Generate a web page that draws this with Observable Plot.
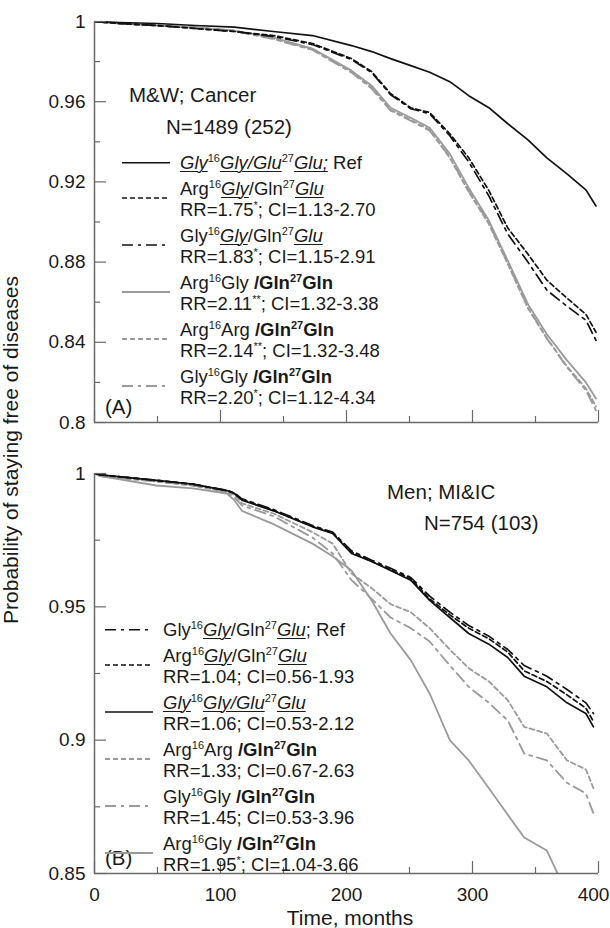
<!DOCTYPE html>
<html>
<head>
<meta charset="utf-8">
<script src="https://cdn.jsdelivr.net/npm/d3@7"></script>
<script src="https://cdn.jsdelivr.net/npm/@observablehq/plot@0.6"></script>
<style>
  html, body { margin: 0; padding: 0; background: #fff; }
  body { font-family: "Liberation Sans", Arial, sans-serif; color: #1a1a1a; }
  #wrap { position: relative; width: 610px; height: 928px; overflow: hidden; }
  .panel { position: absolute; left: 0; }
  .panel svg { display: block; }
  #ov { position: absolute; left: 0; top: 0; pointer-events: none; }
  #ov text { font-family: "Liberation Sans", Arial, sans-serif; fill: #1a1a1a; }
  .legend { position: absolute; font-size: 18.5px; line-height: 21.5px; color: #1a1a1a; white-space: nowrap; }
  .entry { display: flex; align-items: flex-start; margin-bottom: 4px; }
  .entry svg { flex: none; display: block; }
  .entry .txt { margin-left: 10px; }
  sup { font-size: 11px; line-height: 0; vertical-align: 7px; }
  u { text-decoration-thickness: 1px; text-underline-offset: 2px; }
</style>
</head>
<body>
<div id="wrap">
  <div id="pa" class="panel" style="top:0px"></div>
  <div id="pb" class="panel" style="top:447px"></div>
  <svg id="ov" width="610" height="928">
    <text transform="translate(18,450) rotate(-90)" text-anchor="middle" font-size="21">Probability of staying free of diseases</text>
    <text x="350" y="925" text-anchor="middle" font-size="21">Time, months</text>
    <text x="129" y="102" font-size="20.5">M&amp;W; Cancer</text>
    <text x="166" y="134" font-size="20.5">N=1489 (252)</text>
    <text x="105" y="414" font-size="20.5">(A)</text>
    <text x="387" y="499" font-size="20.5">Men; MI&amp;IC</text>
    <text x="424" y="530" font-size="20.5">N=754 (103)</text>
    <text x="105" y="865" font-size="20.5">(B)</text>
  </svg>
  <div id="legA" class="legend" style="left:122px; top:152px"></div>
  <div id="legB" class="legend" style="left:105px; top:619px"></div>
</div>
<script>
// ---------------- DATA ----------------
// Panel A: M&W; Cancer, N=1489 (252)
const timesA = [0, 20, 50, 80, 111, 142, 173, 204, 220, 235, 251, 266, 282, 297, 313, 328, 344, 359, 375, 390, 398];
const a_GlyGly_GluGlu = [1.0, 0.9995, 0.999, 0.998, 0.9972, 0.995, 0.993, 0.988, 0.985, 0.9815, 0.978, 0.9747, 0.970, 0.963, 0.957, 0.949, 0.941, 0.932, 0.924, 0.916, 0.908];
const a_ArgGly_GlnGlu = [1.0, 0.999, 0.998, 0.9965, 0.995, 0.993, 0.989, 0.9815, 0.975, 0.964, 0.957, 0.9546, 0.944, 0.932, 0.9157, 0.897, 0.884, 0.871, 0.862, 0.854, 0.845];
const a_GlyGly_GlnGlu = [1.0, 0.999, 0.998, 0.9965, 0.995, 0.9925, 0.9885, 0.981, 0.9745, 0.9635, 0.9565, 0.954, 0.943, 0.930, 0.913, 0.894, 0.880, 0.866, 0.858, 0.851, 0.841];
const a_ArgGly_GlnGln = [1.0, 0.999, 0.998, 0.997, 0.9955, 0.992, 0.9865, 0.9755, 0.968, 0.957, 0.952, 0.947, 0.934, 0.917, 0.9007, 0.8807, 0.859, 0.844, 0.831, 0.820, 0.812];
const a_ArgArg_GlnGln = [1.0, 0.999, 0.998, 0.997, 0.9953, 0.9915, 0.986, 0.975, 0.967, 0.956, 0.951, 0.946, 0.932, 0.915, 0.899, 0.879, 0.857, 0.842, 0.828, 0.817, 0.808];
const a_GlyGly_GlnGln = [1.0, 0.999, 0.998, 0.997, 0.9952, 0.9912, 0.9858, 0.9745, 0.9665, 0.9555, 0.9505, 0.9455, 0.9325, 0.9155, 0.8995, 0.8795, 0.8575, 0.842, 0.8275, 0.816, 0.806];

// Panel B: Men; MI&IC, N=754 (103)
const timesB = [0, 5, 49, 78, 105, 111, 117, 142, 173, 189, 204, 220, 235, 251, 266, 282, 297, 313, 328, 341, 359, 375, 390, 396];
const b_GlyGly_GlnGlu = [1, 0.9995, 0.9975, 0.996, 0.9937, 0.9927, 0.9905, 0.9865, 0.9805, 0.978, 0.971, 0.9675, 0.9645, 0.961, 0.954, 0.948, 0.943, 0.939, 0.934, 0.928, 0.924, 0.919, 0.914, 0.910];
const b_ArgGly_GlnGlu = [1, 0.9995, 0.9974, 0.996, 0.9936, 0.9926, 0.9903, 0.9862, 0.9802, 0.9778, 0.9705, 0.967, 0.964, 0.9605, 0.953, 0.947, 0.942, 0.938, 0.933, 0.926, 0.922, 0.917, 0.912, 0.907];
const b_GlyGly_GluGlu = [1, 0.9995, 0.9974, 0.996, 0.9936, 0.9925, 0.990, 0.986, 0.980, 0.9775, 0.970, 0.967, 0.9636, 0.960, 0.9524, 0.946, 0.940, 0.936, 0.931, 0.924, 0.920, 0.914, 0.910, 0.905];
const b_ArgArg_GlnGln = [1, 0.999, 0.997, 0.9955, 0.993, 0.992, 0.9888, 0.985, 0.978, 0.9737, 0.9625, 0.957, 0.951, 0.948, 0.942, 0.934, 0.927, 0.922, 0.915, 0.905, 0.9025, 0.8924, 0.889, 0.882];
const b_GlyGly_GlnGln = [1, 0.999, 0.997, 0.9955, 0.993, 0.991, 0.988, 0.984, 0.976, 0.970, 0.960, 0.953, 0.946, 0.942, 0.937, 0.928, 0.920, 0.914, 0.9074, 0.895, 0.8924, 0.884, 0.880, 0.8725];
const b_ArgGly_GlnGln = [1, 0.999, 0.9955, 0.9944, 0.9925, 0.990, 0.986, 0.981, 0.9737, 0.969, 0.9636, 0.9524, 0.940, 0.930, 0.9175, 0.900, 0.8924, 0.882, 0.872, 0.8635, 0.8586, 0.8425, null, null];

// Tick values
const xMajorTicks = [0, 100, 200, 300, 400];
const xMinorTicks = [50, 150, 250, 350];
const yMajorTicksA = [0.8, 0.84, 0.88, 0.92, 0.96, 1];
const yMinorTicksA = [0.82, 0.86, 0.9, 0.94, 0.98];
const yMajorTicksB = [0.85, 0.9, 0.95, 1];
const yMinorTicksB = [0.875, 0.925, 0.975];

// Legend labels (rich text)
const legendLabelsA = [
  ['<u><i>Gly</i></u><sup>16</sup><u><i>Gly/Glu</i></u><sup>27</sup><u><i>Glu;</i></u> Ref'],
  ['Arg<sup>16</sup><u><i>Gly</i></u>/Gln<sup>27</sup><u><i>Glu</i></u>', 'RR=1.75<sup>*</sup>; CI=1.13-2.70'],
  ['Gly<sup>16</sup><u><i>Gly</i></u>/Gln<sup>27</sup><u><i>Glu</i></u>', 'RR=1.83<sup>*</sup>; CI=1.15-2.91'],
  ['Arg<sup>16</sup>Gly <b>/Gln<sup>27</sup>Gln</b>', 'RR=2.11<sup>**</sup>; CI=1.32-3.38'],
  ['Arg<sup>16</sup>Arg <b>/Gln<sup>27</sup>Gln</b>', 'RR=2.14<sup>**</sup>; CI=1.32-3.48'],
  ['Gly<sup>16</sup>Gly <b>/Gln<sup>27</sup>Gln</b>', 'RR=2.20<sup>*</sup>; CI=1.12-4.34']
];
const legendLabelsB = [
  ['Gly<sup>16</sup><u><i>Gly</i></u>/Gln<sup>27</sup><u><i>Glu</i></u>; Ref'],
  ['Arg<sup>16</sup><u><i>Gly</i></u>/Gln<sup>27</sup><u><i>Glu</i></u>', 'RR=1.04; CI=0.56-1.93'],
  ['<u><i>Gly</i></u><sup>16</sup><u><i>Gly/Glu</i></u><sup>27</sup><u><i>Glu</i></u>', 'RR=1.06; CI=0.53-2.12'],
  ['Arg<sup>16</sup>Arg <b>/Gln<sup>27</sup>Gln</b>', 'RR=1.33; CI=0.67-2.63'],
  ['Gly<sup>16</sup>Gly <b>/Gln<sup>27</sup>Gln</b>', 'RR=1.45; CI=0.53-3.96'],
  ['Arg<sup>16</sup>Gly <b>/Gln<sup>27</sup>Gln</b>', 'RR=1.95<sup>*</sup>; CI=1.04-3.66']
];

// ---------------- STYLES ----------------
const BLACK = "#111111", GRAY = "#9a9a9a", AXIS = "#6a6a6a";
const lineStyles = {
  blackSolid:   {stroke: BLACK, width: 1.7, dash: null},
  blackDash:    {stroke: BLACK, width: 1.7, dash: "5,3"},
  blackDashDot: {stroke: BLACK, width: 1.7, dash: "11,5,3,5"},
  graySolid:    {stroke: GRAY,  width: 1.8, dash: null},
  grayDash:     {stroke: GRAY,  width: 1.8, dash: "5,3"},
  grayDashDot:  {stroke: GRAY,  width: 1.8, dash: "11,5,3,5"}
};

const seriesA = [
  {values: a_GlyGly_GluGlu, style: "blackSolid"},
  {values: a_ArgGly_GlnGlu, style: "blackDash"},
  {values: a_GlyGly_GlnGlu, style: "blackDashDot"},
  {values: a_ArgGly_GlnGln, style: "graySolid"},
  {values: a_ArgArg_GlnGln, style: "grayDash"},
  {values: a_GlyGly_GlnGln, style: "grayDashDot"}
];
const seriesB = [
  {values: b_GlyGly_GlnGlu, style: "blackDashDot"},
  {values: b_ArgGly_GlnGlu, style: "blackDash"},
  {values: b_GlyGly_GluGlu, style: "blackSolid"},
  {values: b_ArgArg_GlnGln, style: "grayDash"},
  {values: b_GlyGly_GlnGln, style: "grayDashDot"},
  {values: b_ArgGly_GlnGln, style: "graySolid"}
];

const W = 610, ML = 94, MR = 12;

function makePanel({times, series, yDomain, yMajor, yMinor, height, mt, mb, showX}) {
  const fw = W - ML - MR, fh = height - mt - mb;
  const marks = [];
  [...series].reverse().forEach(s => {
    const st = lineStyles[s.style];
    const rows = times.map((t, i) => ({t, v: s.values[i]}));
    marks.push(Plot.line(rows, {x: "t", y: "v", stroke: st.stroke, strokeWidth: st.width,
      strokeDasharray: st.dash, clip: true, curve: "linear"}));
  });
  // inward ticks
  marks.push(Plot.tickY(yMinor, {y: d => d, insetRight: fw - 6, stroke: AXIS, strokeWidth: 1.2}));
  marks.push(Plot.tickY(yMajor, {y: d => d, insetRight: fw - 12, stroke: AXIS, strokeWidth: 1.2}));
  marks.push(Plot.tickX(xMinorTicks, {x: d => d, insetTop: fh - 6, stroke: AXIS, strokeWidth: 1.2}));
  marks.push(Plot.tickX(xMajorTicks, {x: d => d, insetTop: fh - 12, stroke: AXIS, strokeWidth: 1.2}));
  // axis lines
  marks.push(Plot.ruleX([0], {stroke: AXIS, strokeWidth: 1.5}));
  marks.push(Plot.ruleY([yDomain[0]], {stroke: AXIS, strokeWidth: 1.5}));
  marks.push(Plot.axisY({ticks: yMajor, tickSize: 0, tickPadding: 9, tickFormat: d3.format("~g"),
    label: null, fontSize: 19, fill: "#1a1a1a"}));
  if (showX) {
    const inner = xMajorTicks.slice(0, -1), last = xMajorTicks.slice(-1);
    marks.push(Plot.axisX({ticks: inner, tickSize: 0, tickPadding: 14,
      tickFormat: d3.format("d"), label: null, fontSize: 19, fill: "#1a1a1a"}));
    marks.push(Plot.axisX({ticks: last, tickSize: 0, tickPadding: 14, dx: -5,
      tickFormat: d3.format("d"), label: null, fontSize: 19, fill: "#1a1a1a"}));
  }
  return Plot.plot({
    width: W, height, marginLeft: ML, marginRight: MR, marginTop: mt, marginBottom: mb,
    x: showX ? {domain: [0, 400]} : {domain: [0, 400], axis: null},
    y: {domain: yDomain},
    style: {fontFamily: "'Liberation Sans', Arial, sans-serif", fontSize: "19px", background: "transparent", color: "#1a1a1a", overflow: "visible"},
    marks
  });
}

document.getElementById("pa").appendChild(makePanel({
  times: timesA, series: seriesA, yDomain: [0.8, 1], yMajor: yMajorTicksA, yMinor: yMinorTicksA,
  height: 447, mt: 21, mb: 25, showX: false
}));
document.getElementById("pb").appendChild(makePanel({
  times: timesB, series: seriesB, yDomain: [0.85, 1], yMajor: yMajorTicksB, yMinor: yMinorTicksB,
  height: 481, mt: 26, mb: 55, showX: true
}));

// legends
function buildLegend(el, labels, series) {
  labels.forEach((lines, i) => {
    const st = lineStyles[series[i].style];
    const h = lines.length * 21.5;
    const ly = lines.length === 1 ? h / 2 : h / 2 - 1.5;
    const entry = document.createElement("div");
    entry.className = "entry";
    entry.innerHTML =
      `<svg width="48" height="${h}"><line x1="0" x2="48" y1="${ly}" y2="${ly}" stroke="${st.stroke}" stroke-width="${st.width}" ${st.dash ? `stroke-dasharray="${st.dash}"` : ""}/></svg>` +
      `<div class="txt">${lines.map(l => `<div>${l}</div>`).join("")}</div>`;
    el.appendChild(entry);
  });
}
buildLegend(document.getElementById("legA"), legendLabelsA, seriesA);
buildLegend(document.getElementById("legB"), legendLabelsB, seriesB);
</script>
</body>
</html>
